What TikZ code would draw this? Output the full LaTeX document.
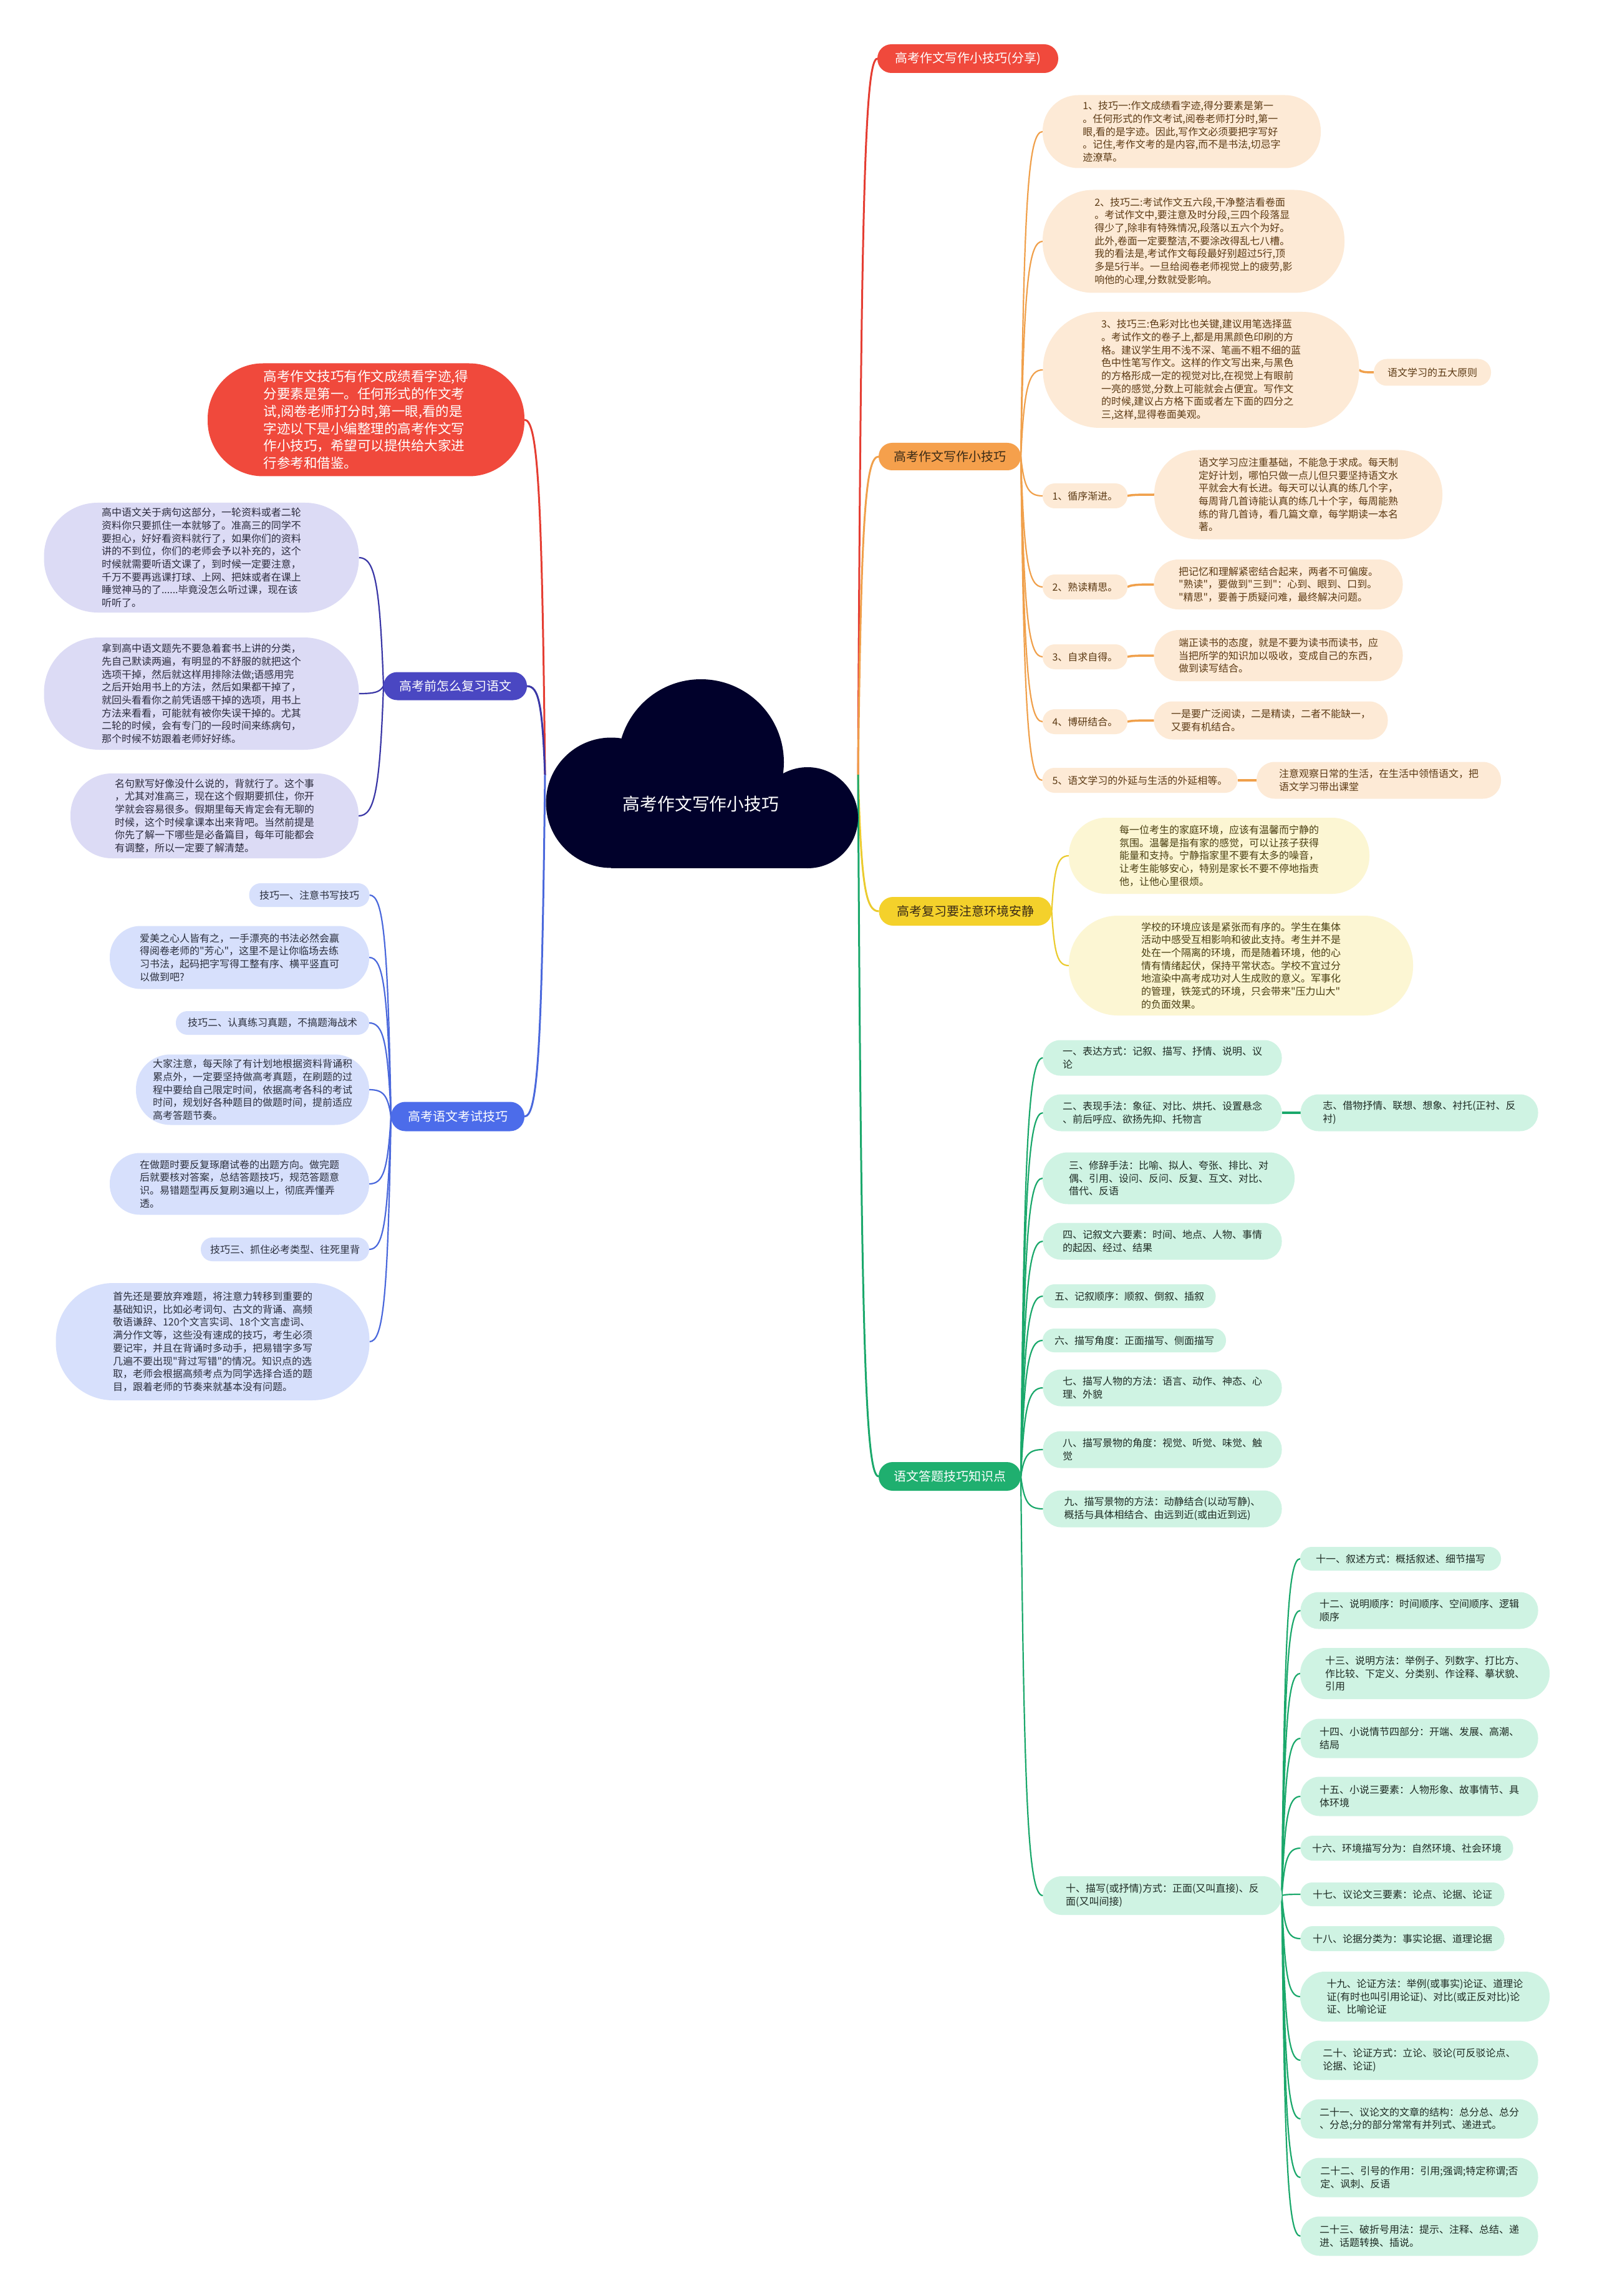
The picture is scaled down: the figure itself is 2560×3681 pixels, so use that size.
\documentclass[tikz,border=0pt]{standalone}
\usepackage{fontspec}
\setmainfont{Noto Sans CJK SC}[Ligatures=TeXOff]
\usetikzlibrary{calc}
\pgfdeclarelayer{back}
\pgfdeclarelayer{lines}
\pgfsetlayers{back,lines,main}
\definecolor{cred}{HTML}{F0493C}
\definecolor{lred}{HTML}{E53D32}
\definecolor{corange}{HTML}{F5A04C}
\definecolor{lorange}{HTML}{F0A04B}
\definecolor{ofill}{HTML}{FDEAD6}
\definecolor{otext}{HTML}{5C3A14}
\definecolor{optext}{HTML}{3A2A16}
\definecolor{cyellow}{HTML}{F4D12B}
\definecolor{lyellow}{HTML}{EBCB2E}
\definecolor{yfill}{HTML}{FCF6D3}
\definecolor{ytext}{HTML}{4A3F12}
\definecolor{cgreen}{HTML}{1FAF6F}
\definecolor{lgreen}{HTML}{1AA86B}
\definecolor{gfill}{HTML}{CFF3E3}
\definecolor{gtext}{HTML}{1E2B24}
\definecolor{cindigo}{HTML}{4A47C2}
\definecolor{lindigo}{HTML}{3A37A6}
\definecolor{vfill}{HTML}{DCDBF5}
\definecolor{vtext}{HTML}{2B2B3D}
\definecolor{cblue}{HTML}{4C6CEA}
\definecolor{lblue}{HTML}{4A68DC}
\definecolor{bfill}{HTML}{D7E0FC}
\definecolor{btext}{HTML}{2B2F3D}
\definecolor{cnavy}{HTML}{01012B}
\newcommand\lnk[3][]{\draw[#1] let \p1=(#2), \p2=(#3) in (\p1) .. controls ({\x1+0.15*(\x2-\x1)},{\y1+0.8*(\y2-\y1)}) and ({\x1+0.35*(\x2-\x1)},{\y2}) .. (\p2);}
\tikzset{
  every node/.style={inner sep=0pt, outer sep=0pt},
  sz/.style 2 args={minimum width=#1*0.1mm, minimum height=#2*0.1mm, rounded corners=0.49*#2*0.1mm},
  txt/.style={font=\fontsize{1.6mm}{2.07mm}\selectfont, align=left},
  obox/.style={txt, fill=ofill, text=otext},
  ybox/.style={txt, fill=yfill, text=ytext},
  gbox/.style={txt, fill=gfill, text=gtext},
  vbox/.style={txt, fill=vfill, text=vtext},
  bluebox/.style={txt, fill=bfill, text=btext},
  pill/.style={font=\fontsize{2.0mm}{2.4mm}\selectfont, align=center},
  mainline/.style={line width=0.3mm},
  subline/.style={line width=0.22mm},
  shortline/.style={line width=0.35mm},
  cloudfill/.style={fill=cnavy}
}
\begin{document}
\begin{tikzpicture}[x=0.1mm, y=-0.1mm]
\begin{pgfonlayer}{back}
\fill[white] (0,0) rectangle (2560,3681);
\end{pgfonlayer}
\useasboundingbox (0,0) rectangle (2560,3681);

% central cloud
\fill[cloudfill] (980,1287) circle[radius=104.5];
\fill[cloudfill] (1124,1222) circle[radius=133];
\fill[cloudfill] (1295,1311) circle[radius=81];
\fill[cloudfill] (980,1287) rectangle (1295,1392);
\node[font=\fontsize{2.78mm}{3.2mm}\selectfont, text=white] (root) at (1124,1289) {高考作文写作小技巧};
\coordinate (cl) at (874,1242);
\coordinate (cr) at (1376,1242);

% right main branches
\node[pill, sz={290}{46}, fill=cred, text=white] (R1) at (1552,94) {高考作文写作小技巧(分享)};
\node[pill, sz={228}{44}, fill=corange, text=optext] (R2) at (1523,732) {高考作文写作小技巧};
\node[pill, sz={277}{46}, fill=cyellow, text=optext] (R3) at (1548,1461) {高考复习要注意环境安静};
\node[pill, sz={228}{46}, fill=cgreen, text=white] (R4) at (1523,2367) {语文答题技巧知识点};

% orange children
\node[obox, sz={446}{117}] (O1) at (1895,211) {1、技巧一:作文成绩看字迹,得分要素是第一\\。任何形式的作文考试,阅卷老师打分时,第一\\眼,看的是字迹。因此,写作文必须要把字写好\\。记住,考作文考的是内容,而不是书法,切忌字\\迹潦草。};
\node[obox, sz={484}{165}] (O2) at (1914,387) {2、技巧二:考试作文五六段,干净整洁看卷面\\。考试作文中,要注意及时分段,三四个段落显\\得少了,除非有特殊情况,段落以五六个为好。\\此外,卷面一定要整洁,不要涂改得乱七八槽。\\我的看法是,考试作文每段最好别超过5行,顶\\多是5行半。一旦给阅卷老师视觉上的疲劳,影\\响他的心理,分数就受影响。};
\node[obox, sz={507}{186}] (O3) at (1926,593) {3、技巧三:色彩对比也关键,建议用笔选择蓝\\。考试作文的卷子上,都是用黑颜色印刷的方\\格。建议学生用不浅不深、笔画不粗不细的蓝\\色中性笔写作文。这样的作文写出来,与黑色\\的方格形成一定的视觉对比,在视觉上有眼前\\一亮的感觉,分数上可能就会占便宜。写作文\\的时候,建议占方格下面或者左下面的四分之\\三,这样,显得卷面美观。};
\node[obox, sz={188}{43}] (O3c) at (2297,597) {语文学习的五大原则};
\node[obox, sz={136}{40}] (O4) at (1740,795) {1、循序渐进。};
\node[obox, sz={462}{143}] (O4c) at (2082,793) {语文学习应注重基础，不能急于求成。每天制\\定好计划，哪怕只做一点儿但只要坚持语文水\\平就会大有长进。每天可以认真的练几个字，\\每周背几首诗能认真的练几十个字，每周能熟\\练的背几首诗，看几篇文章，每学期读一本名\\著。};
\node[obox, sz={136}{40}] (O5) at (1740,941) {2、熟读精思。};
\node[obox, sz={399}{80}] (O5c) at (2050,937) {把记忆和理解紧密结合起来，两者不可偏废。\\"熟读"，要做到"三到"：心到、眼到、口到。\\"精思"，要善于质疑问难，最终解决问题。};
\node[obox, sz={136}{40}] (O6) at (1740,1053) {3、自求自得。};
\node[obox, sz={399}{82}] (O6c) at (2050,1051) {端正读书的态度，就是不要为读书而读书，应\\当把所学的知识加以吸收，变成自己的东西，\\做到读写结合。};
\node[obox, sz={136}{40}] (O7) at (1740,1157) {4、博研结合。};
\node[obox, sz={375}{61}] (O7c) at (2038,1155) {一是要广泛阅读，二是精读，二者不能缺一，\\又要有机结合。};
\node[obox, sz={313}{40}] (O8) at (1828,1251) {5、语文学习的外延与生活的外延相等。};
\node[obox, sz={392}{59}] (O8c) at (2211,1251) {注意观察日常的生活，在生活中领悟语文，把\\语文学习带出课堂};

% yellow children
\node[ybox, sz={482}{122}] (Y1) at (1955,1372) {每一位考生的家庭环境，应该有温馨而宁静的\\氛围。温馨是指有家的感觉，可以让孩子获得\\能量和支持。宁静指家里不要有太多的噪音，\\让考生能够安心，特别是家长不要不停地指责\\他，让他心里很烦。};
\node[ybox, sz={552}{160}] (Y2) at (1990,1548) {学校的环境应该是紧张而有序的。学生在集体\\活动中感受互相影响和彼此支持。考生并不是\\处在一个隔离的环境，而是随着环境，他的心\\情有情绪起伏，保持平常状态。学校不宜过分\\地渲染中高考成功对人生成败的意义。军事化\\的管理，铁笼式的环境，只会带来"压力山大"\\的负面效果。};

% green children
\node[gbox, sz={383}{57}] (G1) at (1864,1696) {一、表达方式：记叙、描写、抒情、说明、议\\论};
\node[gbox, sz={383}{59}] (G2) at (1864,1784) {二、表现手法：象征、对比、烘托、设置悬念\\、前后呼应、欲扬先抑、托物言};
\node[gbox, sz={381}{59}] (G2c) at (2276,1784) {志、借物抒情、联想、想象、衬托(正衬、反\\衬)};
\node[gbox, sz={404}{83}] (G3) at (1874,1889) {三、修辞手法：比喻、拟人、夸张、排比、对\\偶、引用、设问、反问、反复、互文、对比、\\借代、反语};
\node[gbox, sz={383}{59}] (G4) at (1864,1990) {四、记叙文六要素：时间、地点、人物、事情\\的起因、经过、结果};
\node[gbox, sz={277}{38}] (G5) at (1811,2078) {五、记叙顺序：顺叙、倒叙、插叙};
\node[gbox, sz={294}{38}] (G6) at (1819,2149) {六、描写角度：正面描写、侧面描写};
\node[gbox, sz={383}{59}] (G7) at (1864,2225) {七、描写人物的方法：语言、动作、神态、心\\理、外貌};
\node[gbox, sz={383}{59}] (G8) at (1864,2324) {八、描写景物的角度：视觉、听觉、味觉、触\\觉};
\node[gbox, sz={383}{59}] (G9) at (1864,2419) {九、描写景物的方法：动静结合(以动写静)、\\概括与具体相结合、由远到近(或由近到远)};
\node[gbox, sz={383}{62}] (G10) at (1864,3039) {十、描写(或抒情)方式：正面(又叫直接)、反\\面(又叫间接)};
\node[gbox, sz={322}{38}] (G11) at (2246,2499) {十一、叙述方式：概括叙述、细节描写};
\node[gbox, sz={381}{59}] (G12) at (2276,2582) {十二、说明顺序：时间顺序、空间顺序、逻辑\\顺序};
\node[gbox, sz={400}{82}] (G13) at (2285,2683) {十三、说明方法：举例子、列数字、打比方、\\作比较、下定义、分类别、作诠释、摹状貌、\\引用};
\node[gbox, sz={381}{63}] (G14) at (2276,2787) {十四、小说情节四部分：开端、发展、高潮、\\结局};
\node[gbox, sz={381}{63}] (G15) at (2276,2880) {十五、小说三要素：人物形象、故事情节、具\\体环境};
\node[gbox, sz={341}{40}] (G16) at (2256,2963) {十六、环境描写分为：自然环境、社会环境};
\node[gbox, sz={327}{38}] (G17) at (2249,3037) {十七、议论文三要素：论点、论据、论证};
\node[gbox, sz={327}{40}] (G18) at (2249,3108) {十八、论据分类为：事实论据、道理论据};
\node[gbox, sz={400}{80}] (G19) at (2285,3201) {十九、论证方法：举例(或事实)论证、道理论\\证(有时也叫引用论证)、对比(或正反对比)论\\证、比喻论证};
\node[gbox, sz={381}{63}] (G20) at (2276,3303) {二十、论证方式：立论、驳论(可反驳论点、\\论据、论证)};
\node[gbox, sz={381}{63}] (G21) at (2276,3397) {二十一、议论文的文章的结构：总分总、总分\\、分总;分的部分常常有并列式、递进式。};
\node[gbox, sz={381}{63}] (G22) at (2276,3491) {二十二、引号的作用：引用;强调;特定称谓;否\\定、讽刺、反语};
\node[gbox, sz={381}{63}] (G23) at (2276,3585) {二十三、破折号用法：提示、注释、总结、递\\进、话题转换、插说。};

% left branches
\node[font=\fontsize{2.15mm}{2.77mm}\selectfont, align=left, sz={508}{181}, fill=cred, text=white] (L1) at (587,673) {高考作文技巧有作文成绩看字迹,得\\分要素是第一。任何形式的作文考\\试,阅卷老师打分时,第一眼,看的是\\字迹以下是小编整理的高考作文写\\作小技巧，希望可以提供给大家进\\行参考和借鉴。};
\node[pill, sz={230}{45}, fill=cindigo, text=white] (L2) at (730,1100) {高考前怎么复习语文};
\node[pill, sz={214}{47}, fill=cblue, text=white] (L3) at (734,1790) {高考语文考试技巧};

\node[vbox, sz={505}{176}] (V1) at (323,894) {高中语文关于病句这部分，一轮资料或者二轮\\资料你只要抓住一本就够了。准高三的同学不\\要担心，好好看资料就行了，如果你们的资料\\讲的不到位，你们的老师会予以补充的，这个\\时候就需要听语文课了，到时候一定要注意，\\千万不要再逃课打球、上网、把妹或者在课上\\睡觉神马的了......毕竟没怎么听过课，现在该\\听听了。};
\node[vbox, sz={505}{180}] (V2) at (323,1112) {拿到高中语文题先不要急着套书上讲的分类，\\先自己默读两遍，有明显的不舒服的就把这个\\选项干掉，然后就这样用排除法做;语感用完\\之后开始用书上的方法，然后如果都干掉了，\\就回头看看你之前凭语感干掉的选项，用书上\\方法来看看，可能就有被你失误干掉的。尤其\\二轮的时候，会有专门的一段时间来练病句，\\那个时候不妨跟着老师好好练。};
\node[vbox, sz={462}{136}] (V3) at (344,1308) {名句默写好像没什么说的，背就行了。这个事\\，尤其对准高三，现在这个假期要抓住，你开\\学就会容易很多。假期里每天肯定会有无聊的\\时候，这个时候拿课本出来背吧。当然前提是\\你先了解一下哪些是必备篇目，每年可能都会\\有调整，所以一定要了解清楚。};

\node[bluebox, sz={193}{38}] (B1) at (496,1435) {技巧一、注意书写技巧};
\node[bluebox, sz={416}{101}] (B2) at (384,1535) {爱美之心人皆有之，一手漂亮的书法必然会赢\\得阅卷老师的"芳心"，这里不是让你临场去练\\习书法，起码把字写得工整有序、横平竖直可\\以做到吧?};
\node[bluebox, sz={310}{38}] (B3) at (437,1640) {技巧二、认真练习真题，不搞题海战术};
\node[bluebox, sz={374}{113}] (B4) at (405,1747) {大家注意，每天除了有计划地根据资料背诵积\\累点外，一定要坚持做高考真题，在刷题的过\\程中要给自己限定时间，依据高考各科的考试\\时间，规划好各种题目的做题时间，提前适应\\高考答题节奏。};
\node[bluebox, sz={416}{99}] (B5) at (384,1898) {在做题时要反复琢磨试卷的出题方向。做完题\\后就要核对答案，总结答题技巧，规范答题意\\识。易错题型再反复刷3遍以上，彻底弄懂弄\\透。};
\node[bluebox, sz={270}{38}] (B6) at (457,2003) {技巧三、抓住必考类型、往死里背};
\node[bluebox, sz={503}{188}] (B7) at (341,2151) {首先还是要放弃难题，将注意力转移到重要的\\基础知识，比如必考词句、古文的背诵、高频\\敬语谦辞、120个文言实词、18个文言虚词、\\满分作文等，这些没有速成的技巧，考生必须\\要记牢，并且在背诵时多动手，把易错字多写\\几遍不要出现"背过写错"的情况。知识点的选\\取，老师会根据高频考点为同学选择合适的题\\目，跟着老师的节奏来就基本没有问题。};

% connectors
\begin{pgfonlayer}{lines}
\lnk[mainline, lred]{cr}{R1.west}
\lnk[mainline, lorange]{cr}{R2.west}
\lnk[mainline, lyellow]{cr}{R3.west}
\lnk[mainline, lgreen]{cr}{R4.west}
\lnk[mainline, lred]{cl}{L1.east}
\lnk[mainline, lindigo]{cl}{L2.east}
\lnk[mainline, lblue]{cl}{L3.east}
\foreach \c in {O1,O2,O3,O4,O5,O6,O7,O8} {\lnk[subline, lorange]{R2.east}{\c.west}}
\lnk[shortline, lorange]{O3.east}{O3c.west}
\lnk[shortline, lorange]{O4.east}{O4c.west}
\lnk[shortline, lorange]{O5.east}{O5c.west}
\lnk[shortline, lorange]{O6.east}{O6c.west}
\lnk[shortline, lorange]{O7.east}{O7c.west}
\lnk[shortline, lorange]{O8.east}{O8c.west}
\foreach \c in {Y1,Y2} {\lnk[subline, lyellow]{R3.east}{\c.west}}
\foreach \c in {G1,G2,G3,G4,G5,G6,G7,G8,G9,G10} {\lnk[subline, lgreen]{R4.east}{\c.west}}
\lnk[shortline, lgreen]{G2.east}{G2c.west}
\foreach \c in {G11,G12,G13,G14,G15,G16,G17,G18,G19,G20,G21,G22,G23} {\lnk[subline, lgreen]{G10.east}{\c.west}}
\foreach \c in {V1,V2,V3} {\lnk[subline, lindigo]{L2.west}{\c.east}}
\foreach \c in {B1,B2,B3,B4,B5,B6,B7} {\lnk[subline, lblue]{L3.west}{\c.east}}
\end{pgfonlayer}
\end{tikzpicture}
\end{document}
